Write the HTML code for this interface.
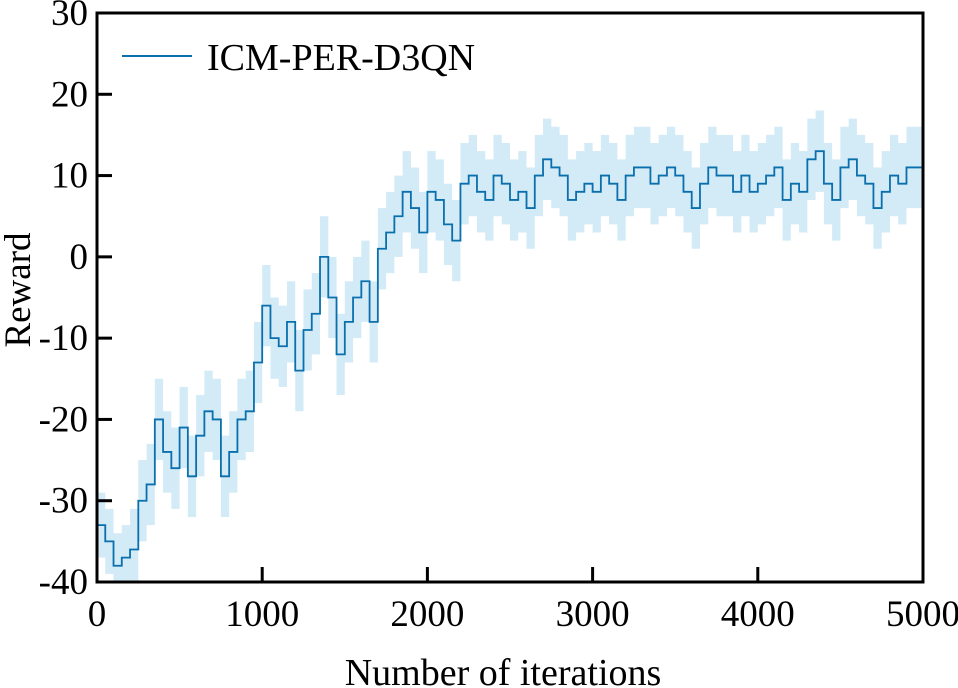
<!DOCTYPE html>
<html><head><meta charset="utf-8"><style>
html,body{margin:0;padding:0;background:#fff;width:958px;height:688px;overflow:hidden}
text{font-family:"Liberation Serif",serif;fill:#000}
</style></head><body>
<svg id="chart" width="958" height="688" viewBox="0 0 958 688" xmlns="http://www.w3.org/2000/svg">
<g id="band"></g>
<g id="line"></g>
<g id="axes"></g>
<g>
<line x1="122" y1="56" x2="192" y2="56" stroke="#0a6fad" stroke-width="2"/>
<text x="207" y="70" font-size="38">ICM-PER-D3QN</text>
</g>
<text transform="translate(30,290) rotate(-90)" text-anchor="middle" font-size="37">Reward</text>
<text x="503" y="685" text-anchor="middle" font-size="38">Number of iterations</text>
</svg>
<script>
const iterations = [];
for (let i = 0; i <= 100; i++) iterations.push(i * 50);
const meanReward = [-33,-35,-38,-37,-36,-30,-28,-20,-24,-26,-21,-27,-22,-19,-20,-27,-24,-20,-19,-13,-6,-10,-11,-8,-14,-9,-7,0,-5,-12,-8,-5,-3,-8,1,3,5,8,6,3,8,7,4,2,9,10,8,7,10,9,7,8,6,10,12,11,10,7,8,9,8,10,9,7,10,11,11,9,10,11,10,8,6,9,11,10,10,8,10,8,9,10,11,7,9,8,12,13,9,7,11,12,10,9,6,8,10,9,11,11,10];
const bandHalf = [4,4,4,4,5,5,5,5,5,5,5,5,5,5,5,5,5,5,5,5,5,5,5,5,5,5,5,5,5,5,5,5,5,5,5,5,5,5,5,5,5,5,5,5,5,5,5,5,5,5,5,5,5,5,5,5,5,5,5,5,5,5,5,5,5,5,5,5,5,5,5,5,5,5,5,5,5,5,5,5,5,5,5,5,5,5,5,5,5,5,5,5,5,5,5,5,5,5,5,5,5];
const xTicks = [0,1000,2000,3000,4000,5000];
const yTicks = [-40,-30,-20,-10,0,10,20,30];
const L=97,R=923,T=13,B=582;
const xs = v => L + (v/5000)*(R-L);
const ys = v => B - (v+40)/70*(B-T);
const NS="http://www.w3.org/2000/svg";
function mk(tag, attrs, parent){const e=document.createElementNS(NS,tag);for(const k in attrs)e.setAttribute(k,attrs[k]);parent.appendChild(e);return e;}
let up="",lo="";
for(let i=0;i<iterations.length;i++){
  const x0=xs(iterations[i]), x1=xs(Math.min(iterations[i]+50,5000));
  const hi=Math.min(ys(meanReward[i]+bandHalf[i]),B), l=Math.min(ys(meanReward[i]-bandHalf[i]),B);
  up+=(i?"L":"M")+x0+","+hi+"L"+x1+","+hi;
  lo="L"+x1+","+l+"L"+x0+","+l+lo;
}
const band=mk("path",{d:up+lo+"Z",fill:"#d3eaf7"},document.getElementById("band"));


let d="";
for(let i=0;i<iterations.length;i++){
  const x0=xs(iterations[i]), x1=xs(Math.min(iterations[i]+50,5000)), y=Math.min(ys(meanReward[i]),B);
  d+=(i?"L":"M")+x0+","+y+"L"+x1+","+y;
}
const ln=mk("path",{d:d,fill:"none",stroke:"#0a6fad","stroke-width":"1.8"},document.getElementById("line"));


const ax=document.getElementById("axes");
const fr=mk("rect",{x:L,y:T,width:R-L,height:B-T,fill:"none",stroke:"#000","stroke-width":"3"},ax);


xTicks.forEach(v=>{
  const t=mk("line",{x1:xs(v),x2:xs(v),y1:B,y2:B-15,stroke:"#000","stroke-width":"3"},ax);
  
  
  const lb=mk("text",{x:xs(v),y:B+44,"text-anchor":"middle","font-size":"37"},ax);
  
  
  lb.textContent=v;
});
yTicks.forEach(v=>{
  const t=mk("line",{x1:L,x2:L+15,y1:ys(v),y2:ys(v),stroke:"#000","stroke-width":"3"},ax);
  
  
  const lb=mk("text",{x:L-9,y:ys(v)+12,"text-anchor":"end","font-size":"37"},ax);
  
  
  lb.textContent=v;
});
</script>
</body></html>
